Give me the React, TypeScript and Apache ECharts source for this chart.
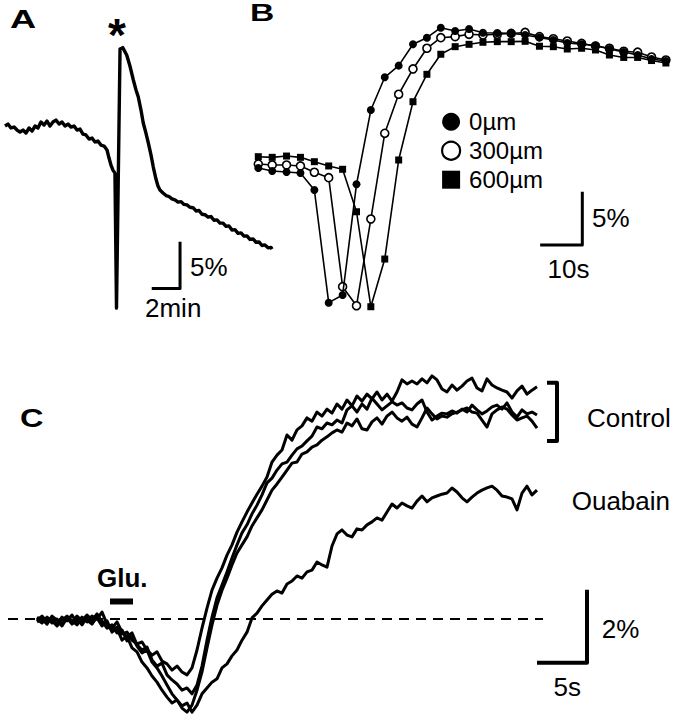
import React, { useEffect, useRef } from "react";
import * as echarts from "echarts";

const FONT = '"Liberation Sans", Arial, Helvetica, sans-serif';

// ---------- Panel A: single slow trace (time in min, signal in %) ----------
const aTime = [0,0.21,0.42,0.64,0.85,1.06,1.27,1.48,1.70,1.91,2.12,2.33,2.54,2.76,2.97,3.18,3.39,3.60,3.82,4.03,4.24,4.45,4.66,4.88,5.09,5.30,5.51,5.72,5.94,6.15,6.36,6.57,6.78,7.00,7.21,
  7.35,7.49,7.63,7.77,7.88,
  8.13,8.32,8.60,8.83,9.07,9.26,9.42,9.61,9.77,9.96,10.13,10.32,10.48,10.67,10.81,10.95,
  11.17,11.38,11.59,11.80,12.01,12.23,12.44,12.65,12.86,13.07,13.29,13.50,13.71,13.92,14.13,14.35,14.56,14.77,14.98,15.19,15.41,15.62,15.83,16.04,16.25,16.47,16.68,16.89,17.10,17.31,17.53,17.74,17.95,18.16,18.37,18.59,18.80,
  18.87];
const aSignal = [0,0.21,-0.21,-0.11,-0.43,-0.64,-0.43,-0.75,-0.21,-0.54,0,-0.21,0.43,0.11,0.54,0,0.43,0.64,0.21,0.43,0,0.21,-0.11,0,-0.43,-0.32,-0.86,-0.96,-1.39,-1.29,-1.71,-1.61,-2.04,-2.14,-2.57,
  -3.43,-4.18,-4.72,-5.04,-19.51,
  8.25,8.40,7.61,6.43,4.93,3.86,3.11,1.71,0.32,-0.75,-1.82,-3.11,-4.39,-5.68,-6.43,-6.86,
  -7.18,-7.45,-7.55,-7.80,-7.90,-8.15,-8.10,-8.40,-8.45,-8.70,-8.75,-9.10,-9.05,-9.45,-9.50,-9.75,-9.70,-10.10,-10.05,-10.40,-10.40,-10.75,-10.70,-11.15,-11.10,-11.50,-11.45,-11.80,-11.78,-12.15,-12.10,-12.45,-12.42,-12.80,-12.74,-13.05,-13.00,
  -13.18];

// ---------- Panel B: three distances (time in s, signal in %) ----------
const bTime = [0,3.3,6.7,10,13.3,16.7,20,23.3,26.7,30,33.3,36.7,40,43.3,46.7,50,53.3,56.7,60,63.3,66.7,70,73.3,76.7,80,83.3,86.7,90,93.3,96.7];
const b0um = [0,-0.28,-0.37,-0.47,-2.06,-12.62,-11.90,-1.53,5.43,8.50,9.59,11.59,12.21,13.15,12.84,13.03,12.68,12.65,12.62,12.46,12.23,12.00,11.72,11.59,11.48,11.15,10.87,10.59,10.22,10.03];
const b300um = [0.37,0.28,0.28,0.19,-0.40,-0.91,-11.12,-12.91,-4.78,3.25,6.91,9.28,11.22,12.21,12.31,12.53,12.46,12.53,12.61,12.70,12.31,12.11,11.90,11.67,11.43,11.22,10.94,10.85,10.40,10.12];
const b600um = [1.06,1.00,1.12,1.00,0.59,0.19,-0.12,-4.10,-13.00,-8.53,0.75,6.21,8.78,10.66,11.37,11.59,11.78,11.84,11.84,11.87,11.41,11.37,11.15,11.22,11.06,10.59,10.36,10.36,10.07,9.84];
const bNames = ["0µm", "300µm", "600µm"];

// ---------- Panel C: control x3 and ouabain (time in s, signal in %) ----------
const cTime = Array.from({ length: 101 }, (_, i) => i * 0.5);
const cControl1 = [0.05,-0.05,0.03,-0.11,0,-0.14,0.03,-0.08,0.08,-0.05,
  0.11,-0.03,0.14,-0.08,-0.19,-0.30,-0.22,-0.41,-0.36,-0.58,
  -0.68,-0.63,-0.85,-0.99,-0.90,-1.15,-1.23,-1.40,-1.29,-1.45,
  -1.53,-1.34,-0.85,-0.25,0.30,0.79,1.12,1.40,1.75,2.03,
  2.38,2.66,2.93,3.18,3.42,3.64,3.89,4.30,4.49,4.63,
  5.04,4.90,5.18,5.29,5.51,5.42,5.67,5.56,5.75,5.64,
  5.89,5.75,6.00,5.84,6.11,5.97,6.16,6.03,6.22,6.00,
  6.16,5.97,6.22,6.55,6.44,6.52,6.44,6.58,6.47,6.66,
  6.55,6.30,6.22,6.41,6.27,6.38,6.52,6.60,6.33,6.25,
  6.58,6.41,6.33,6.27,6.22,6.05,6.25,6.38,6.16,6.27,
  6.36];
const cControl2 = [-0.03,0.08,-0.08,0.03,-0.16,0.05,-0.05,0.11,-0.11,0.03,
  -0.08,0.08,0,0.19,-0.14,-0.25,-0.08,-0.36,-0.49,-0.38,
  -0.71,-0.85,-0.77,-1.12,-1.29,-1.21,-1.53,-1.67,-1.78,-1.95,
  -1.89,-2.05,-1.81,-1.29,-0.58,0.05,0.58,0.93,1.29,1.67,
  2.03,2.36,2.58,2.88,3.12,3.40,3.73,3.86,4.08,4.25,
  4.30,4.49,4.66,4.74,4.88,5.01,5.26,5.21,5.37,5.32,
  5.45,5.37,5.73,5.84,5.67,5.89,5.75,6.05,5.89,5.73,
  5.84,5.95,5.86,5.92,5.78,5.73,5.89,6.00,5.67,5.45,
  5.56,5.64,5.62,5.70,5.64,5.75,5.67,5.86,5.73,5.62,
  5.70,5.81,5.86,5.75,5.92,5.67,5.53,5.73,5.62,5.67,
  5.59];
const cControl3 = [-0.08,0,-0.14,0.08,-0.03,-0.19,0.03,-0.14,0,-0.16,
  0.05,-0.11,0.03,-0.19,-0.05,-0.36,-0.25,-0.58,-0.47,-0.79,
  -0.90,-1.18,-1.34,-1.56,-1.73,-1.95,-2.14,-2.30,-2.22,-2.44,
  -2.55,-2.36,-1.95,-1.45,-0.79,-0.16,0.38,0.79,1.12,1.48,
  1.81,2.03,2.25,2.55,2.77,2.99,3.26,3.53,3.70,3.89,
  4.08,4.27,4.30,4.52,4.58,4.71,4.77,4.90,4.99,5.10,
  5.18,5.12,5.37,5.29,5.48,5.21,5.18,5.40,5.51,5.34,
  5.56,5.67,5.51,5.42,5.53,5.34,5.26,5.51,5.78,5.62,
  5.48,5.56,5.53,5.62,5.67,5.73,5.78,5.67,5.64,5.45,
  5.26,5.62,5.73,5.81,5.75,5.59,5.45,5.51,5.56,5.42,
  5.23];
const cOuabain = [0,-0.11,0.05,-0.05,-0.19,-0.03,0.08,-0.05,-0.16,0.05,
  -0.03,-0.14,0.08,-0.05,-0.25,-0.16,-0.38,-0.30,-0.60,-0.49,
  -0.74,-0.93,-0.85,-1.18,-1.34,-1.56,-1.81,-2.05,-2.22,-2.38,
  -2.30,-2.55,-2.36,-2.05,-1.89,-1.73,-1.64,-1.34,-1.23,-1.01,
  -0.85,-0.58,-0.36,0.03,0.16,0.36,0.52,0.68,0.77,0.71,
  0.96,1.04,1.18,1.12,1.29,1.34,1.56,1.48,1.42,2.00,
  2.33,2.44,2.30,2.25,2.47,2.44,2.58,2.66,2.77,2.71,
  2.93,3.15,3.04,3.18,3.10,3.04,3.23,3.37,3.21,3.32,
  3.37,3.42,3.45,3.59,3.48,3.32,3.21,3.34,3.45,3.53,
  3.59,3.64,3.53,3.37,3.34,3.29,2.99,3.45,3.64,3.40,
  3.53];
const gluOnOff = [7.3, 9.6]; // s, glutamate application

const zip = (xs: number[], ys: number[]) => xs.map((x, i) => [x, ys[i]]);

const plain = (name: string, data: number[][], axis: number, width: number, extra: any = {}) => ({
  name, type: "line", xAxisIndex: axis, yAxisIndex: axis, data,
  symbol: "none", silent: true, animation: false, clip: false,
  lineStyle: { color: "#000", width, join: "round", cap: "butt", ...(extra.lineStyle || {}) },
  emphasis: { disabled: true }, z: extra.z ?? 2,
});

const markerSeries = (name: string, ys: number[], symbol: string, size: number, fill: string, z: number) => ({
  name, type: "line", xAxisIndex: 1, yAxisIndex: 1, data: zip(bTime, ys),
  symbol, symbolSize: size, showSymbol: true, silent: true, animation: false,
  lineStyle: { color: "#000", width: 1.6 },
  itemStyle: { color: fill, borderColor: "#000", borderWidth: fill === "#fff" ? 1.6 : 0 },
  emphasis: { disabled: true }, z,
});

const txt = (text: string, x: number, y: number, size: number, bold = false, extra: any = {}, vAlign = "middle") => ({
  type: "text", x, y, silent: true, ...extra,
  style: {
    text, font: `${bold ? "bold " : ""}${size}px ${FONT}`, fill: "#000",
    align: "left", verticalAlign: vAlign, textAlign: "left", textVerticalAlign: vAlign,
  },
});

export default function App() {
  const ref = useRef<HTMLDivElement>(null);
  useEffect(() => {
    const chart = echarts.init(ref.current!, null, { renderer: "svg" });
    const option: any = {
      animation: false,
      backgroundColor: "#fff",
      grid: [
        { left: 5, top: 32.7, width: 283, height: 280, outerBoundsMode: "none" },
        { left: 251.98, top: 18.6, width: 421.5, height: 298.8, outerBoundsMode: "none" },
        { left: 7, top: 363.5, width: 670, height: 354.05, outerBoundsMode: "none" },
      ],
      xAxis: [
        { gridIndex: 0, type: "value", min: 0, max: 20, show: false },
        { gridIndex: 1, type: "value", min: -1.5, max: 98.5, show: false },
        { gridIndex: 2, type: "value", min: -3, max: 64, show: false },
      ],
      yAxis: [
        { gridIndex: 0, type: "value", min: -20, max: 10, show: false },
        { gridIndex: 1, type: "value", min: -14, max: 14, show: false },
        { gridIndex: 2, type: "value", min: -2.7, max: 7, show: false },
      ],
      legend: {
        data: [
          { name: bNames[0], icon: "circle", itemStyle: { color: "#000", borderWidth: 0 } },
          { name: bNames[1], icon: "circle", itemStyle: { color: "#fff", borderColor: "#000", borderWidth: 2.2 } },
          { name: bNames[2], icon: "rect", itemStyle: { color: "#000", borderWidth: 0 } },
        ],
        orient: "vertical", left: 441, top: 109.7, padding: 0,
        itemWidth: 18, itemHeight: 18, itemGap: 5, selectedMode: false,
        textStyle: { fontSize: 24, fontFamily: FONT, color: "#000", lineHeight: 24, padding: [0, 0, 0, 4] },
      },
      series: [
        // Panel A
        plain("A trace", zip(aTime, aSignal), 0, 3.4),
        plain("A scale", [[10.37, -17.4], [12.37, -17.4], [12.37, -12.4]], 0, 3),
        // Panel B
        markerSeries(bNames[2], b600um, "rect", 7, "#000", 3),
        markerSeries(bNames[1], b300um, "circle", 8, "#fff", 4),
        markerSeries(bNames[0], b0um, "circle", 8, "#000", 5),
        plain("B scale", [[66.87, -7.22], [76.87, -7.22], [76.87, -2.22]], 1, 3),
        // Panel C
        plain("Baseline", [[-2.9, 0], [50.6, 0]], 2, 2, { lineStyle: { type: [10, 7] }, z: 1 }),
        plain("Control 1", zip(cTime, cControl1), 2, 3),
        plain("Control 2", zip(cTime, cControl2), 2, 3),
        plain("Control 3", zip(cTime, cControl3), 2, 3),
        plain("Ouabain", zip(cTime, cOuabain), 2, 3),
        plain("Glu.", [[gluOnOff[0], 0.48], [gluOnOff[1], 0.48]], 2, 6),
        plain("C scale", [[50, -1.2], [55, -1.2], [55, 0.8]], 2, 4),
        plain("Control bracket", [[51, 6.47], [52, 6.47], [52, 4.88], [51, 4.88]], 2, 4),
      ],
      graphic: [
        txt("A", 10, 19.5, 25, true, { scaleX: 1.45 }),
        txt("B", 250, 1, 24, true, { scaleX: 1.4 }, "top"),
        txt("C", 20, 418.5, 25, true, { scaleX: 1.3 }),
        txt("*", 108, 35, 46, true),
        txt("5%", 190, 266.7, 26),
        txt("2min", 145, 308, 26),
        txt("5%", 592, 217.5, 26),
        txt("10s", 547.5, 268.5, 26),
        txt("Glu.", 97, 577.5, 26, true),
        txt("Control", 587, 417.5, 26),
        txt("Ouabain", 571.7, 501, 26),
        txt("2%", 601.7, 629, 26),
        txt("5s", 553.5, 686.5, 26),
      ],
    };
    chart.setOption(option);
    return () => chart.dispose();
  }, []);
  return (
    <div
      ref={ref}
      style={{ position: "fixed", left: 0, top: 0, width: 678, height: 720, background: "#fff" }}
    />
  );
}
